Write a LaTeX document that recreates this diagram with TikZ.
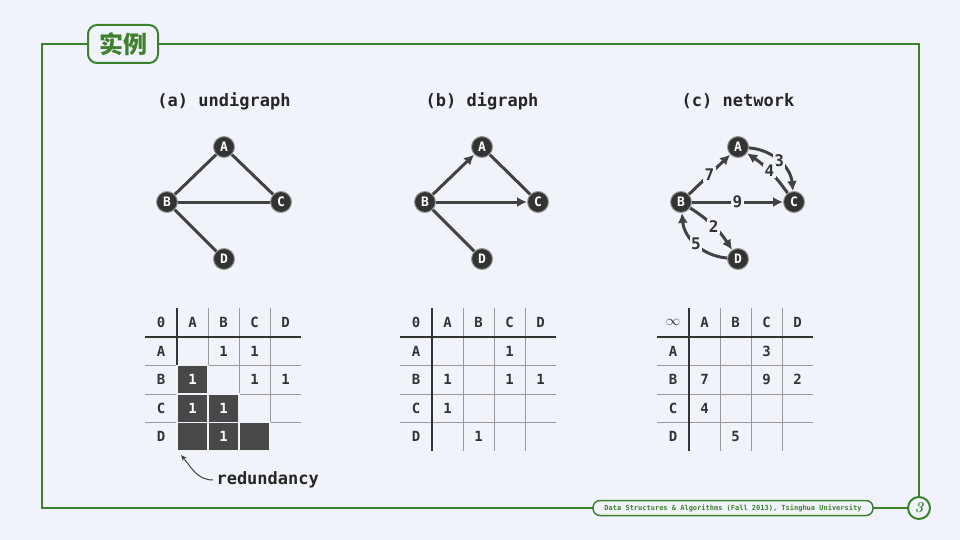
\documentclass[tikz,border=0pt]{standalone}
\usepackage{fontspec}
\setmonofont{DejaVu Sans Mono}
\newfontfamily\cjk{Noto Sans CJK SC}
\usetikzlibrary{arrows.meta}

\definecolor{bg}{RGB}{240,244,250}
\definecolor{frame}{RGB}{62,128,46}
\definecolor{edge}{RGB}{66,66,66}
\definecolor{cell}{RGB}{72,72,72}

\tikzset{
  vtx/.style={shape=circle, fill=black!80, draw=black!40, line width=1pt, inner sep=0pt,
              minimum size=21pt, text=white, font=\ttfamily\bfseries\fontsize{13}{13}\selectfont},
  ed/.style={draw=edge, line width=3pt},
  arc/.style={ed, -{Latex[length=10pt,width=10pt]}},
  wt/.style={fill=bg, inner sep=1.5pt, text=black!80, font=\ttfamily\bfseries\fontsize{16}{16}\selectfont},
  ttlab/.style={text=black!85, font=\ttfamily\bfseries\fontsize{17}{17}\selectfont},
  hd/.style={text=black!80, font=\ttfamily\bfseries\fontsize{14}{14}\selectfont},
  thinln/.style={draw=black!40, line width=0.8pt},
  thickln/.style={draw=black!80, line width=2.5pt},
  dk/.style={fill=cell, draw=bg, line width=1.2pt},
}

% grid of a 4x4 matrix, #1 = name prefix, #2 = corner symbol
\newcommand{\mtxgrid}[2]{%
  \foreach \x in {31,62,93} \draw[thinln] (\x,-29) -- (\x,114);
  \foreach \y in {28.5,57,85.5} \draw[thinln] (-32,\y) -- (124,\y);
  \draw[thickln] (0,-29) -- (0,114);
  \draw[thickln] (-32,0) -- (124,0);
  \node[hd] (#1-0) at (-16,-14.5) {#2};
  \foreach \c [count=\i from 0] in {A,B,C,D} {
    \node[hd] (#1-c\c) at (15.5+31*\i,-14.5) {\c};
    \node[hd] (#1-r\c) at (-16,14.25+28.5*\i) {\c};
  }
}

\begin{document}
\begin{tikzpicture}[x=1pt, y=-1pt]
  \useasboundingbox[fill=bg] (0,0) rectangle (960,540);
  \draw[frame, line width=2pt] (42,44) rectangle (919,508);
  \node[draw=frame, line width=2pt, rounded corners=9pt, fill=bg, minimum width=70pt,
        minimum height=38pt, text=frame, font=\cjk\bfseries\fontsize{24}{24}\selectfont] (ttl) at (123,44) {实例};
  \node[draw=frame, line width=1.5pt, rounded corners=7pt, fill=bg, minimum width=280pt,
        minimum height=15pt, inner sep=1pt, text=frame,
        font=\ttfamily\bfseries\fontsize{7}{7}\selectfont] (foot) at (733,508)
        {Data Structures \& Algorithms (Fall 2013), Tsinghua University};
  \node[circle, draw=frame, line width=2pt, fill=bg, minimum size=22pt, inner sep=0pt, text=frame,
        font=\bfseries\itshape\fontsize{15}{15}\selectfont] (pg) at (919,508) {3};

  % (a) undigraph
  \node[ttlab] (a-t) at (224,101) {(a) undigraph};
  \node[vtx] (a-A) at (224,147) {A};
  \node[vtx] (a-B) at (167,202) {B};
  \node[vtx] (a-C) at (281,202) {C};
  \node[vtx] (a-D) at (224,259) {D};
  \draw[ed] (a-B) -- (a-A);
  \draw[ed] (a-A) -- (a-C);
  \draw[ed] (a-B) -- (a-C);
  \draw[ed] (a-B) -- (a-D);

  % (b) digraph
  \node[ttlab] (b-t) at (482,101) {(b) digraph};
  \node[vtx] (b-A) at (482,147) {A};
  \node[vtx] (b-B) at (425,202) {B};
  \node[vtx] (b-C) at (538,202) {C};
  \node[vtx] (b-D) at (482,259) {D};
  \draw[arc] (b-B) -- (b-A);
  \draw[ed] (b-A) -- (b-C);
  \draw[arc] (b-B) -- (b-C);
  \draw[ed] (b-B) -- (b-D);

  % (c) network
  \node[ttlab] (c-t) at (738,101) {(c) network};
  \node[vtx] (c-A) at (738,147) {A};
  \node[vtx] (c-B) at (681,202) {B};
  \node[vtx] (c-C) at (794,202) {C};
  \node[vtx] (c-D) at (738,259) {D};
  \draw[arc] (c-B) -- node[wt] {7} (c-A);
  \draw[arc] (c-B) -- node[wt] {9} (c-C);
  \draw[arc] (c-A) to[bend left=40] node[wt] {3} (c-C);
  \draw[arc] (c-C) to[bend right=10] node[wt] {4} (c-A);
  \draw[arc] (c-B) to[bend left=12] node[wt] {2} (c-D);
  \draw[arc] (c-D) to[bend left=40] node[wt] {5} (c-B);

  % matrix of (a)
  \begin{scope}[shift={(177,337)}]
    \mtxgrid{ma}{0}
    \foreach \r/\c in {1/0, 2/0, 2/1, 3/0, 3/1, 3/2}
      \fill[dk] (31*\c,28.5*\r) rectangle (31*\c+31,28.5*\r+28.5);
    \foreach \r/\c in {0/1, 0/2, 1/2, 1/3}
      \node[hd] (ma-\r\c) at (15.5+31*\c,14.25+28.5*\r) {1};
    \foreach \r/\c in {1/0, 2/0, 2/1, 3/1}
      \node[hd, text=white] (ma-\r\c) at (15.5+31*\c,14.25+28.5*\r) {1};
  \end{scope}
  \node[ttlab, anchor=west] (rd) at (213,480) {redundancy};
  \coordinate (rd-tip) at (181,455);
  \draw[black!75, line width=1pt, -{Stealth[length=6pt,width=5pt]}] (rd.west) to[out=180, in=-50] (rd-tip);

  % matrix of (b)
  \begin{scope}[shift={(432,337)}]
    \mtxgrid{mb}{0}
    \foreach \r/\c in {0/2, 1/0, 1/2, 1/3, 2/0, 3/1}
      \node[hd] (mb-\r\c) at (15.5+31*\c,14.25+28.5*\r) {1};
  \end{scope}

  % matrix of (c)
  \begin{scope}[shift={(689,337)}]
    \mtxgrid{mc}{$\infty$}
    \foreach \r/\c/\w in {0/2/3, 1/0/7, 1/2/9, 1/3/2, 2/0/4, 3/1/5}
      \node[hd] (mc-\r\c) at (15.5+31*\c,14.25+28.5*\r) {\w};
  \end{scope}
\end{tikzpicture}
\end{document}
